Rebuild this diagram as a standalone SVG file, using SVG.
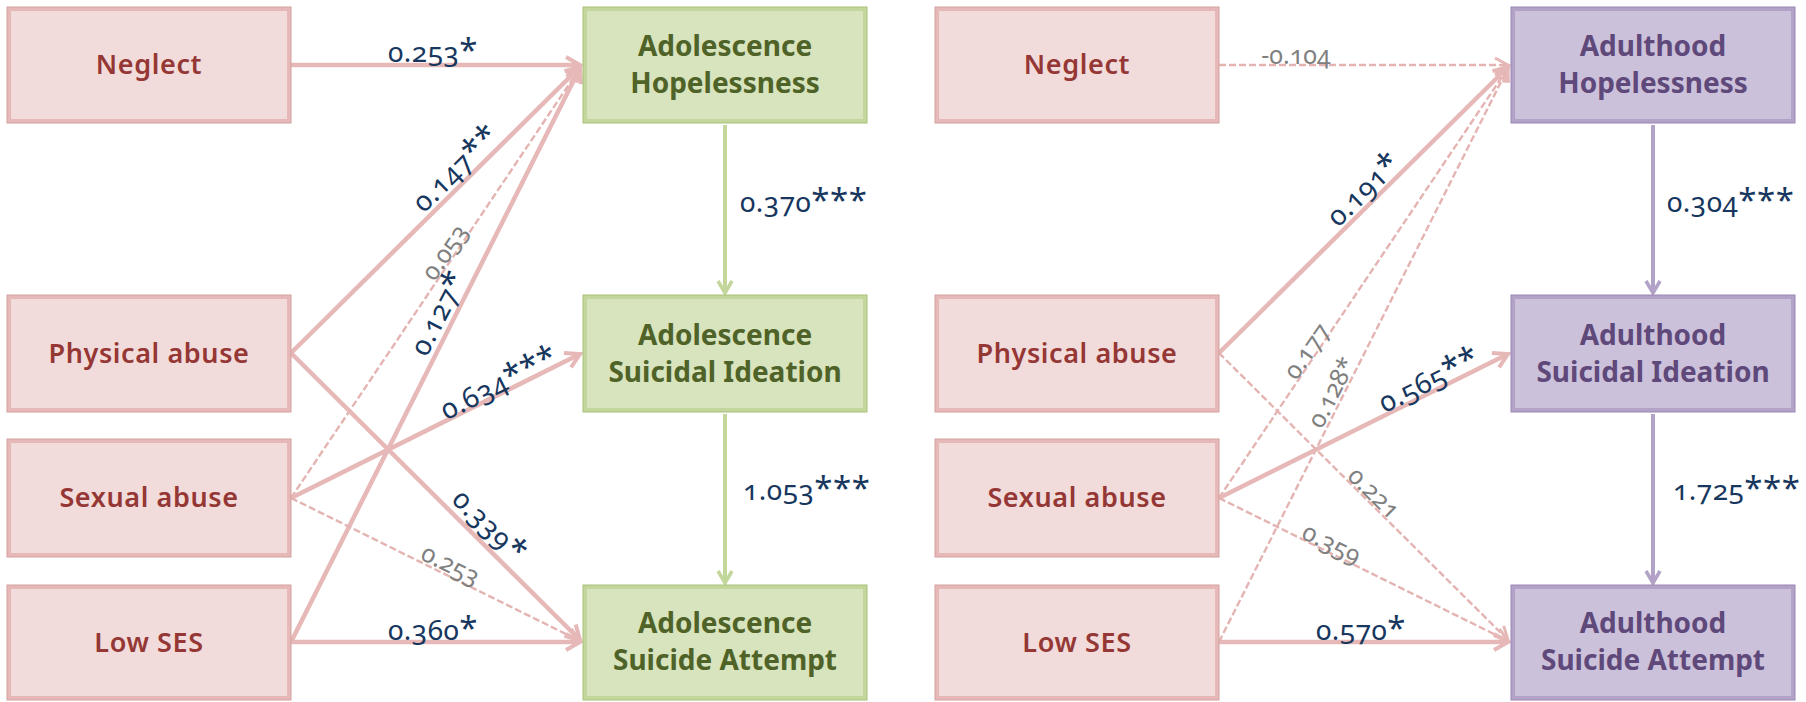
<svg xmlns="http://www.w3.org/2000/svg" width="1806" height="702" viewBox="0 0 1806 702">
  <style>
    .pk { fill: #f2dcdb; stroke: #e6b9b8; stroke-width: 4; }
    .pk-edge { fill: none; stroke: #d4a1a0; stroke-width: 1; }
    .gr { fill: #d7e4bd; stroke: #c3d69b; stroke-width: 4; }
    .gr-edge { fill: none; stroke: #a9c07a; stroke-width: 1; }
    .pu { fill: #ccc1da; stroke: #b3a2c7; stroke-width: 4; }
    .pu-edge { fill: none; stroke: #9a86b4; stroke-width: 1; }
    .t-pk { font-family: "Noto Sans", "Open Sans", sans-serif; font-weight: 600; font-size: 27px; fill: #953735; text-anchor: middle; letter-spacing: 0.6px; }
    .t-gr { font-family: "Noto Sans", "Open Sans", sans-serif; font-weight: 700; font-size: 28px; fill: #4f6228; text-anchor: middle; }
    .t-pu { font-family: "Noto Sans", "Open Sans", sans-serif; font-weight: 700; font-size: 28px; fill: #5f497a; text-anchor: middle; }
    .sig { font-family: "Noto Sans", "Open Sans", sans-serif; font-size: 28px; fill: #17375e; font-variant-numeric: oldstyle-nums; letter-spacing: 0.5px; }
    .ns { font-family: "Noto Sans", "Open Sans", sans-serif; font-size: 25px; fill: #808080; font-variant-numeric: oldstyle-nums; }
    .ast { font-size: 33px; }
    .mid { text-anchor: middle; }
    .solid { fill: none; stroke: #e6b9b8; stroke-width: 4.5; }
    .dash { fill: none; stroke: #e4b4b3; stroke-width: 2.4; stroke-dasharray: 7 3; }
    .v-gr { fill: none; stroke: #c3d69b; stroke-width: 4; }
    .v-pu { fill: none; stroke: #b3a2c7; stroke-width: 4; }
  </style>
  <defs>
    <marker id="ah-pk" markerUnits="userSpaceOnUse" viewBox="-20 -12 24 24" refX="0" refY="0" markerWidth="24" markerHeight="24" orient="auto" overflow="visible">
      <path d="M-14,-8 L0,0 L-14,8" fill="none" stroke="#e6b9b8" stroke-width="4"/>
    </marker>
    <marker id="ah-pk-thin" markerUnits="userSpaceOnUse" viewBox="-20 -12 24 24" refX="0" refY="0" markerWidth="24" markerHeight="24" orient="auto" overflow="visible">
      <path d="M-13,-7 L0,0 L-13,7" fill="none" stroke="#e6b9b8" stroke-width="3"/>
    </marker>
    <marker id="ah-gr" markerUnits="userSpaceOnUse" viewBox="-20 -12 24 24" refX="0" refY="0" markerWidth="24" markerHeight="24" orient="auto" overflow="visible">
      <path d="M-12,-7 L0,0 L-12,7" fill="none" stroke="#c3d69b" stroke-width="3.5"/>
    </marker>
    <marker id="ah-pu" markerUnits="userSpaceOnUse" viewBox="-20 -12 24 24" refX="0" refY="0" markerWidth="24" markerHeight="24" orient="auto" overflow="visible">
      <path d="M-12,-7 L0,0 L-12,7" fill="none" stroke="#b3a2c7" stroke-width="3.5"/>
    </marker>
  </defs>

  <rect width="1806" height="702" fill="#ffffff"/>

  <!-- connectors -->
  <g id="connectors">
    <!-- adolescence model -->
    <line class="solid" x1="291" y1="65" x2="580" y2="65" marker-end="url(#ah-pk)"/>
    <line class="solid" x1="291" y1="353" x2="580" y2="67" marker-end="url(#ah-pk)"/>
    <line class="dash" x1="291" y1="498" x2="580" y2="68" marker-end="url(#ah-pk-thin)"/>
    <line class="solid" x1="291" y1="642" x2="580" y2="68" marker-end="url(#ah-pk)"/>
    <line class="solid" x1="291" y1="498" x2="580" y2="354" marker-end="url(#ah-pk)"/>
    <line class="solid" x1="291" y1="353" x2="580" y2="640" marker-end="url(#ah-pk)"/>
    <line class="dash" x1="291" y1="498" x2="580" y2="641" marker-end="url(#ah-pk-thin)"/>
    <line class="solid" x1="291" y1="642" x2="580" y2="642" marker-end="url(#ah-pk)"/>
    <line class="v-gr" x1="725" y1="125" x2="725" y2="293" marker-end="url(#ah-gr)"/>
    <line class="v-gr" x1="725" y1="414" x2="725" y2="583" marker-end="url(#ah-gr)"/>

    <!-- adulthood model -->
    <line class="dash" x1="1219" y1="65" x2="1508" y2="65" marker-end="url(#ah-pk-thin)"/>
    <line class="solid" x1="1219" y1="353" x2="1508" y2="67" marker-end="url(#ah-pk)"/>
    <line class="dash" x1="1219" y1="498" x2="1508" y2="68" marker-end="url(#ah-pk-thin)"/>
    <line class="dash" x1="1219" y1="642" x2="1508" y2="68" marker-end="url(#ah-pk-thin)"/>
    <line class="solid" x1="1219" y1="498" x2="1508" y2="354" marker-end="url(#ah-pk)"/>
    <line class="dash" x1="1219" y1="353" x2="1508" y2="640" marker-end="url(#ah-pk-thin)"/>
    <line class="dash" x1="1219" y1="498" x2="1508" y2="641" marker-end="url(#ah-pk-thin)"/>
    <line class="solid" x1="1219" y1="642" x2="1508" y2="642" marker-end="url(#ah-pk)"/>
    <line class="v-pu" x1="1653" y1="125" x2="1653" y2="293" marker-end="url(#ah-pu)"/>
    <line class="v-pu" x1="1653" y1="414" x2="1653" y2="583" marker-end="url(#ah-pu)"/>

    <!-- path coefficients -->
    <text class="sig mid" x="433" y="62">0.253<tspan class="ast">*</tspan></text>
    <text class="sig mid" transform="translate(457,170) rotate(-44.6)" y="8">0.147<tspan class="ast">**</tspan></text>
    <text class="ns mid" transform="translate(446,253) rotate(-55.7)" y="7">0.053</text>
    <text class="sig mid" transform="translate(440,314) rotate(-62.9)" y="8">0.127<tspan class="ast">*</tspan></text>
    <text class="sig mid" transform="translate(500,385) rotate(-26.4)" y="8">0.634<tspan class="ast">***</tspan></text>
    <text class="sig mid" transform="translate(488,527) rotate(44.7)" y="8">0.339<tspan class="ast">*</tspan></text>
    <text class="ns mid" transform="translate(450,566) rotate(26.3)" y="7">0.253</text>
    <text class="sig mid" x="433" y="640">0.360<tspan class="ast">*</tspan></text>
    <text class="sig" x="740" y="212">0.370<tspan class="ast">***</tspan></text>
    <text class="sig" x="743" y="500">1.053<tspan class="ast">***</tspan></text>

    <text class="ns mid" x="1296" y="64">-0.104</text>
    <text class="sig mid" transform="translate(1365,191) rotate(-44)" y="8">0.191<tspan class="ast">*</tspan></text>
    <text class="ns mid" transform="translate(1308,352) rotate(-55.6)" y="7">0.177</text>
    <text class="ns mid" transform="translate(1333,393) rotate(-62.9)" y="7">0.128*</text>
    <text class="sig mid" transform="translate(1430,382) rotate(-26.3)" y="8">0.565<tspan class="ast">**</tspan></text>
    <text class="ns mid" transform="translate(1373,494) rotate(44.6)" y="7">0.221</text>
    <text class="ns mid" transform="translate(1331,545) rotate(26.2)" y="7">0.359</text>
    <text class="sig mid" x="1361" y="640">0.570<tspan class="ast">*</tspan></text>
    <text class="sig" x="1667" y="212">0.304<tspan class="ast">***</tspan></text>
    <text class="sig" x="1673" y="500">1.725<tspan class="ast">***</tspan></text>
  </g>

  <!-- adolescence predictors -->
  <g id="adol-neglect">
    <rect class="pk" x="9" y="9" width="280" height="112"/>
    <rect class="pk-edge" x="7" y="7" width="284" height="116"/>
    <text class="t-pk" x="149" y="74">Neglect</text>
  </g>
  <g id="adol-physical">
    <rect class="pk" x="9" y="297" width="280" height="113"/>
    <rect class="pk-edge" x="7" y="295" width="284" height="117"/>
    <text class="t-pk" x="149" y="363">Physical abuse</text>
  </g>
  <g id="adol-sexual">
    <rect class="pk" x="9" y="441" width="280" height="114"/>
    <rect class="pk-edge" x="7" y="439" width="284" height="118"/>
    <text class="t-pk" x="149" y="507">Sexual abuse</text>
  </g>
  <g id="adol-ses">
    <rect class="pk" x="9" y="587" width="280" height="111"/>
    <rect class="pk-edge" x="7" y="585" width="284" height="115"/>
    <text class="t-pk" x="149" y="652">Low SES</text>
  </g>

  <!-- adolescence outcomes -->
  <g id="adol-hopelessness">
    <rect class="gr" x="585" y="9" width="280" height="112"/>
    <rect class="gr-edge" x="583" y="7" width="284" height="116"/>
    <text class="t-gr" x="725" y="56">Adolescence</text>
    <text class="t-gr" x="725" y="93">Hopelessness</text>
  </g>
  <g id="adol-ideation">
    <rect class="gr" x="585" y="297" width="280" height="113"/>
    <rect class="gr-edge" x="583" y="295" width="284" height="117"/>
    <text class="t-gr" x="725" y="345">Adolescence</text>
    <text class="t-gr" x="725" y="382">Suicidal Ideation</text>
  </g>
  <g id="adol-attempt">
    <rect class="gr" x="585" y="587" width="280" height="111"/>
    <rect class="gr-edge" x="583" y="585" width="284" height="115"/>
    <text class="t-gr" x="725" y="633">Adolescence</text>
    <text class="t-gr" x="725" y="670">Suicide Attempt</text>
  </g>

  <!-- adulthood predictors -->
  <g id="adult-neglect">
    <rect class="pk" x="937" y="9" width="280" height="112"/>
    <rect class="pk-edge" x="935" y="7" width="284" height="116"/>
    <text class="t-pk" x="1077" y="74">Neglect</text>
  </g>
  <g id="adult-physical">
    <rect class="pk" x="937" y="297" width="280" height="113"/>
    <rect class="pk-edge" x="935" y="295" width="284" height="117"/>
    <text class="t-pk" x="1077" y="363">Physical abuse</text>
  </g>
  <g id="adult-sexual">
    <rect class="pk" x="937" y="441" width="280" height="114"/>
    <rect class="pk-edge" x="935" y="439" width="284" height="118"/>
    <text class="t-pk" x="1077" y="507">Sexual abuse</text>
  </g>
  <g id="adult-ses">
    <rect class="pk" x="937" y="587" width="280" height="111"/>
    <rect class="pk-edge" x="935" y="585" width="284" height="115"/>
    <text class="t-pk" x="1077" y="652">Low SES</text>
  </g>

  <!-- adulthood outcomes -->
  <g id="adult-hopelessness">
    <rect class="pu" x="1513" y="9" width="280" height="112"/>
    <rect class="pu-edge" x="1511" y="7" width="284" height="116"/>
    <text class="t-pu" x="1653" y="56">Adulthood</text>
    <text class="t-pu" x="1653" y="93">Hopelessness</text>
  </g>
  <g id="adult-ideation">
    <rect class="pu" x="1513" y="297" width="280" height="113"/>
    <rect class="pu-edge" x="1511" y="295" width="284" height="117"/>
    <text class="t-pu" x="1653" y="345">Adulthood</text>
    <text class="t-pu" x="1653" y="382">Suicidal Ideation</text>
  </g>
  <g id="adult-attempt">
    <rect class="pu" x="1513" y="587" width="280" height="111"/>
    <rect class="pu-edge" x="1511" y="585" width="284" height="115"/>
    <text class="t-pu" x="1653" y="633">Adulthood</text>
    <text class="t-pu" x="1653" y="670">Suicide Attempt</text>
  </g>
</svg>
